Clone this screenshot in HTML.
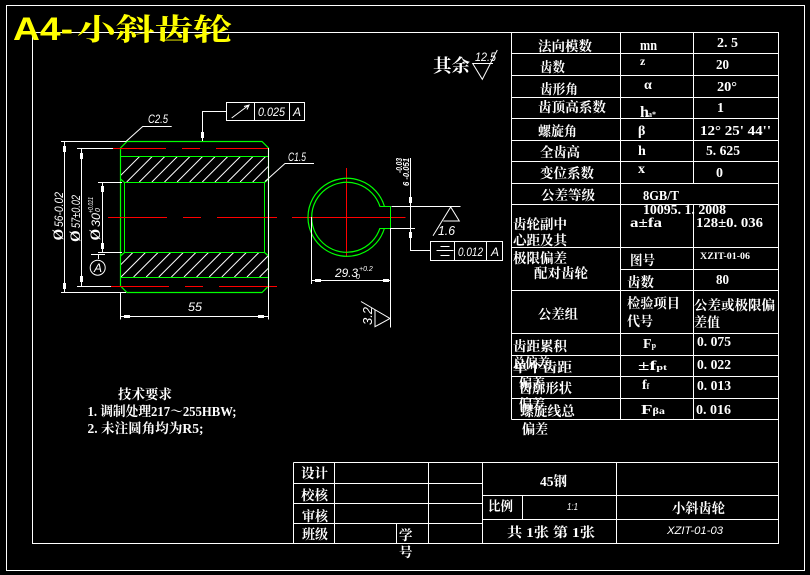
<!DOCTYPE html>
<html><head><meta charset="utf-8">
<style>
html,body{margin:0;padding:0;background:#000;width:810px;height:575px;overflow:hidden}
svg{display:block}
.w{stroke:#fff;stroke-width:1;fill:none;shape-rendering:crispEdges}
.g{stroke:#0f0;stroke-width:1.2;fill:none}
.gc{stroke:#0f0;stroke-width:1;fill:none;shape-rendering:crispEdges}
.r{stroke:#f00;stroke-width:1;fill:none;shape-rendering:crispEdges}
.h{stroke:#fff;stroke-width:1;fill:none}
.t{stroke:#fff;stroke-width:1;fill:none}
text{fill:#fff}
.c{font-family:"Liberation Serif","Noto Serif CJK SC",serif;font-size:13.5px;font-weight:700}
.n{font-family:"Liberation Serif","Noto Serif CJK SC",serif;font-size:14px;font-weight:700}
.i{font-family:"Liberation Sans",sans-serif;font-style:italic;font-size:12px}
</style></head><body>
<svg width="810" height="575" viewBox="0 0 810 575" xmlns="http://www.w3.org/2000/svg">
<rect width="810" height="575" fill="#000"/>
<!-- frames -->
<rect class="w" x="6.5" y="5.5" width="798" height="565"/>
<rect class="w" x="32.5" y="32.5" width="746" height="511"/>

<!-- params table -->
<path class="w" d="M511.5 32.5V419.5M620.5 32.5V419.5M693.5 32.5V183.5M693.5 204.5V419.5
M511.5 53.5H778.5M511.5 75.5H778.5M511.5 97.5H778.5M511.5 118.5H778.5M511.5 140.5H778.5M511.5 161.5H778.5M511.5 183.5H778.5M511.5 204.5H778.5M511.5 247.5H778.5M620.5 269.5H778.5M511.5 290.5H778.5M511.5 333.5H778.5M511.5 355.5H778.5M511.5 376.5H778.5M511.5 398.5H778.5M511.5 419.5H778.5"/>

<text class="c" x="538" y="51" textLength="54" lengthAdjust="spacingAndGlyphs">法向模数</text>
<text class="n" x="640" y="50" style="font-size:15px" textLength="17" lengthAdjust="spacingAndGlyphs">mn</text>
<text class="n" x="717" y="47" textLength="21" lengthAdjust="spacingAndGlyphs">2. 5</text>
<text class="c" x="540" y="72" textLength="25" lengthAdjust="spacingAndGlyphs">齿数</text>
<text class="n" x="640" y="65" style="font-size:12px">z</text>
<text class="n" x="716" y="69" textLength="13" lengthAdjust="spacingAndGlyphs">20</text>
<text class="c" x="540" y="94" textLength="38" lengthAdjust="spacingAndGlyphs">齿形角</text>
<text class="n" x="644" y="89">α</text>
<text class="n" x="717" y="91" textLength="20" lengthAdjust="spacingAndGlyphs">20°</text>
<text class="c" x="538" y="112" textLength="68" lengthAdjust="spacingAndGlyphs">齿顶高系数</text>
<text class="n" x="640" y="117" style="font-size:16px">h</text><text class="n" x="648" y="117" style="font-size:8px">a*</text>
<text class="n" x="717" y="112">1</text>
<text class="c" x="538" y="136" textLength="39" lengthAdjust="spacingAndGlyphs">螺旋角</text>
<text class="n" x="638" y="135">β</text>
<text class="n" x="700" y="135" textLength="71" lengthAdjust="spacingAndGlyphs">12° 25' 44''</text>
<text class="c" x="540" y="157" textLength="40" lengthAdjust="spacingAndGlyphs">全齿高</text>
<text class="n" x="638" y="155">h</text>
<text class="n" x="706" y="155" textLength="34" lengthAdjust="spacingAndGlyphs">5. 625</text>
<text class="c" x="540" y="178" textLength="54" lengthAdjust="spacingAndGlyphs">变位系数</text>
<text class="n" x="638" y="173">x</text>
<text class="n" x="716" y="177">0</text>
<text class="c" x="541" y="200" textLength="54" lengthAdjust="spacingAndGlyphs">公差等级</text>
<text class="n" x="643" y="200" textLength="36" lengthAdjust="spacingAndGlyphs">8GB/T</text>
<text class="n" x="643" y="214" textLength="83" lengthAdjust="spacingAndGlyphs">10095. 1. 2008</text>
<text class="c" x="513" y="229" textLength="54" lengthAdjust="spacingAndGlyphs">齿轮副中</text>
<text class="n" x="630" y="227" textLength="32" lengthAdjust="spacingAndGlyphs">a±fa</text>
<text class="n" x="696" y="227" textLength="67" lengthAdjust="spacingAndGlyphs">128±0. 036</text>
<text class="c" x="513" y="245" textLength="54" lengthAdjust="spacingAndGlyphs">心距及其</text>
<text class="c" x="513" y="263" textLength="54" lengthAdjust="spacingAndGlyphs">极限偏差</text>
<text class="c" x="534" y="278" textLength="54" lengthAdjust="spacingAndGlyphs">配对齿轮</text>
<text class="c" x="630" y="265" textLength="25" lengthAdjust="spacingAndGlyphs">图号</text>
<text class="n" x="700" y="259" style="font-size:9px" textLength="50" lengthAdjust="spacingAndGlyphs">XZIT-01-06</text>
<text class="c" x="627" y="287" textLength="27" lengthAdjust="spacingAndGlyphs">齿数</text>
<text class="n" x="716" y="284" textLength="13" lengthAdjust="spacingAndGlyphs">80</text>
<text class="c" x="538" y="319" textLength="40" lengthAdjust="spacingAndGlyphs">公差组</text>
<text class="c" x="627" y="308" textLength="53" lengthAdjust="spacingAndGlyphs">检验项目</text>
<text class="c" x="627" y="326" textLength="26" lengthAdjust="spacingAndGlyphs">代号</text>
<text class="c" x="694" y="310" textLength="81" lengthAdjust="spacingAndGlyphs">公差或极限偏</text>
<text class="c" x="694" y="327" textLength="26" lengthAdjust="spacingAndGlyphs">差值</text>
<text class="c" x="513" y="351" textLength="54" lengthAdjust="spacingAndGlyphs">齿距累积</text>
<text class="n" x="643" y="348">F<tspan font-size="8">p</tspan></text>
<text class="n" x="697" y="346" textLength="34" lengthAdjust="spacingAndGlyphs">0. 075</text>
<text class="c" x="513" y="368" textLength="37" lengthAdjust="spacingAndGlyphs">总偏差</text>
<text class="c" x="513" y="372" textLength="59" lengthAdjust="spacingAndGlyphs">单个齿距</text>
<text class="n" x="638" y="370" textLength="29" lengthAdjust="spacingAndGlyphs">±f<tspan font-size="8">pt</tspan></text>
<text class="n" x="697" y="369" textLength="34" lengthAdjust="spacingAndGlyphs">0. 022</text>
<text class="c" x="519" y="388" textLength="26" lengthAdjust="spacingAndGlyphs">偏差</text>
<text class="c" x="519" y="393" textLength="53" lengthAdjust="spacingAndGlyphs">齿廓形状</text>
<text class="n" x="642" y="389">f<tspan font-size="8">f</tspan></text>
<text class="n" x="697" y="390" textLength="34" lengthAdjust="spacingAndGlyphs">0. 013</text>
<text class="c" x="519" y="409" textLength="26" lengthAdjust="spacingAndGlyphs">偏差</text>
<text class="c" x="520" y="416" textLength="55" lengthAdjust="spacingAndGlyphs">螺旋线总</text>
<text class="n" x="641" y="414" textLength="24" lengthAdjust="spacingAndGlyphs">F<tspan font-size="9">βa</tspan></text>
<text class="n" x="696" y="414" textLength="35" lengthAdjust="spacingAndGlyphs">0. 016</text>
<text class="c" x="522" y="434" textLength="26" lengthAdjust="spacingAndGlyphs">偏差</text>

<!-- title block -->
<path class="w" d="M293.5 462.5H778.5M293.5 483.5H482.5M293.5 503.5H482.5M293.5 523.5H482.5M482.5 495.5H778.5M482.5 519.5H778.5
M293.5 462.5V543.5M334.5 462.5V543.5M396.5 523.5V543.5M428.5 462.5V543.5M482.5 462.5V543.5M522.5 495.5V519.5M616.5 462.5V543.5"/>
<text class="c" x="301" y="478" textLength="27" lengthAdjust="spacingAndGlyphs">设计</text>
<text class="c" x="301" y="500" textLength="27" lengthAdjust="spacingAndGlyphs">校核</text>
<text class="c" x="302" y="521" textLength="26" lengthAdjust="spacingAndGlyphs">审核</text>
<text class="c" x="302" y="539" textLength="26" lengthAdjust="spacingAndGlyphs">班级</text>
<text class="c" x="399" y="540">学</text>
<text class="c" x="399" y="557">号</text>
<text class="c" x="540" y="486" textLength="27" lengthAdjust="spacingAndGlyphs">45钢</text>
<text class="c" x="488" y="511" textLength="25" lengthAdjust="spacingAndGlyphs">比例</text>
<text class="i" x="567" y="510" style="font-size:10px" textLength="11" lengthAdjust="spacingAndGlyphs">1:1</text>
<text class="c" x="672" y="513" textLength="53" lengthAdjust="spacingAndGlyphs">小斜齿轮</text>
<text class="c" x="507" y="537" textLength="88" lengthAdjust="spacingAndGlyphs">共 1张 第 1张</text>
<text class="i" x="667" y="534" style="font-size:11px" textLength="56" lengthAdjust="spacingAndGlyphs">XZIT-01-03</text>

<!-- notes -->
<text class="c" x="118" y="399" textLength="54" lengthAdjust="spacingAndGlyphs">技术要求</text>
<text class="c" x="87.5" y="416" textLength="149" lengthAdjust="spacingAndGlyphs">1. 调制处理217～255HBW;</text>
<text class="c" x="87.5" y="433" textLength="116" lengthAdjust="spacingAndGlyphs">2. 未注圆角均为R5;</text>

<!-- rest finish -->
<text class="c" x="433" y="72" style="font-size:18px" textLength="37" lengthAdjust="spacingAndGlyphs">其余</text>
<path class="t" d="M493 63.5H472.7L482.3 79.3L497.3 50"/>
<text class="i" x="475" y="61" textLength="21" lengthAdjust="spacingAndGlyphs">12.5</text>

<!-- hatch -->
<path class="h" clip-path="url(#h1)" d="M114.1 182L139.6 156.5M126.7 182L152.2 156.5M139.3 182L164.8 156.5M151.9 182L177.4 156.5M164.5 182L190 156.5M177.1 182L202.6 156.5M189.7 182L215.2 156.5M202.3 182L227.8 156.5M214.9 182L240.4 156.5M227.5 182L253 156.5M240.1 182L265.6 156.5M252.7 182L278.2 156.5M265.3 182L290.8 156.5"/>
<path class="h" clip-path="url(#h2)" d="M108.4 277L132.9 252.5M121 277L145.5 252.5M133.6 277L158.1 252.5M146.2 277L170.7 252.5M158.8 277L183.3 252.5M171.4 277L195.9 252.5M184 277L208.5 252.5M196.6 277L221.1 252.5M209.2 277L233.7 252.5M221.8 277L246.3 252.5M234.4 277L258.9 252.5M247 277L271.5 252.5M259.6 277L284.1 252.5"/>
<defs>
<clipPath id="h1"><rect x="121" y="157" width="147" height="25"/></clipPath>
<clipPath id="h2"><rect x="121" y="253" width="147" height="24"/></clipPath>
</defs>

<!-- section view -->
<polygon class="g" points="127,141.5 262,141.5 268.5,148 268.5,286 262,292.5 127,292.5 120.5,286 120.5,148"/>
<path class="gc" d="M120.5 156.5H268.5M120.5 277.5H268.5"/>
<rect class="gc" x="124.5" y="182.5" width="140" height="70"/>
<path class="g" d="M120.5 179L124.5 182.5M268.5 179L264.5 182.5M120.5 256L124.5 252.5M268.5 256L264.5 252.5"/>
<path class="r" d="M113 148.5H166M182 148.5H200M216 148.5H268M108 217.5H167M183 217.5H201M217 217.5H277M111 286.5H169M185 286.5H203M219 286.5H277"/>

<!-- dims left -->
<path class="w" d="M61 141.5H126M61 292.5H126M64.5 141.5V292.5M77 148.5H113M77 286.5H111M81.5 148.5V286.5M98 182.5H122M98 252.5H122M102.5 182.5V252.5M91 254.5H105M98.5 254.5V259"/>
<g fill="#fff">
<rect x="63" y="146" width="3" height="6"/><rect x="63" y="283" width="3" height="6"/>
<rect x="80" y="153" width="3" height="6"/><rect x="80" y="276" width="3" height="6"/>
<rect x="101" y="186" width="3" height="6"/><rect x="101" y="243" width="3" height="6"/>
<rect x="201" y="132" width="3" height="6"/>
<rect x="124" y="315" width="6" height="3"/><rect x="258" y="315" width="6" height="3"/>
<rect x="409" y="197" width="3" height="6"/><rect x="409" y="232" width="3" height="6"/>
<rect x="315" y="279" width="6" height="3"/><rect x="383" y="279" width="6" height="3"/>
</g>
<circle class="t" cx="97.7" cy="267.7" r="7.5"/>
<text class="i" x="94" y="272">A</text>
<text class="c" style="font-size:15px" transform="translate(63,240.5) rotate(-90)">Ø</text>
<text class="i" transform="translate(63,227) rotate(-90)" textLength="35" lengthAdjust="spacingAndGlyphs">56-0.02</text>
<text class="c" style="font-size:15px" transform="translate(80,242) rotate(-90)">Ø</text>
<text class="i" transform="translate(80,228) rotate(-90)" textLength="33" lengthAdjust="spacingAndGlyphs">57±0.02</text>
<text class="c" style="font-size:15px" transform="translate(100,240.5) rotate(-90)">Ø</text>
<text class="i" transform="translate(100,227) rotate(-90)" textLength="14" lengthAdjust="spacingAndGlyphs">30</text>
<text class="i" style="font-size:7px" transform="translate(93,213) rotate(-90)" textLength="16" lengthAdjust="spacingAndGlyphs">+0.021</text>
<text class="i" style="font-size:7px" transform="translate(100,212) rotate(-90)">0</text>

<!-- dim bottom -->
<path class="w" d="M120.5 292V319.5M268.5 148V319.5M120.5 316.5H268.5"/>
<text class="i" x="188" y="311" textLength="14" lengthAdjust="spacingAndGlyphs">55</text>

<!-- leaders -->
<path class="t" d="M126 141.5L142.7 126.5H171.7M265 181.5L285 163.5H314"/>
<text class="i" x="148" y="123" textLength="20" lengthAdjust="spacingAndGlyphs">C2.5</text>
<text class="i" x="288" y="161" textLength="18" lengthAdjust="spacingAndGlyphs">C1.5</text>

<!-- tolerance top -->
<path class="w" d="M226.5 102.5H304.5V120.5H226.5ZM254.5 102.5V120.5M289.5 102.5V120.5M226.5 111.5H202.5V141"/>
<path class="t" d="M231.7 118L249 105M244 106.5L249 105L247 109.5"/>
<text class="i" x="258" y="116" textLength="27" lengthAdjust="spacingAndGlyphs">0.025</text>
<text class="i" x="293" y="116">A</text>

<!-- end view -->
<path class="r" d="M346.5 168V257M292 217.5H405.5"/>
<path class="g" d="M384.4 206.3A39 39 0 1 0 384.4 228.3M379.9 206.3A35 35 0 1 0 379.9 228.3"/>
<path class="gc" d="M379.5 206.5H390.5V228.5H379.5"/>
<path class="w" d="M391.5 206.5H460.5M391 228.5H415M410.5 158V250.5H430M311.5 217V284M390.5 228V327.5M311.5 280.5H390.5"/>
<path class="t" d="M433 235.7L450.7 207L459.3 221H443.3"/>
<text class="i" x="438" y="235" style="font-size:13px" textLength="17" lengthAdjust="spacingAndGlyphs">1.6</text>
<rect class="w" x="430.5" y="241.5" width="72" height="19"/>
<path class="w" d="M454.5 241.5V260.5M486.5 241.5V260.5M440.5 246.5H449.5M436.5 250.5H453.5M440.5 255.5H449.5"/>
<text class="i" x="458" y="256" textLength="25" lengthAdjust="spacingAndGlyphs">0.012</text>
<text class="i" x="491" y="256">A</text>
<text class="i" style="font-size:8px;font-weight:700" transform="translate(402,173) rotate(-90)" textLength="15" lengthAdjust="spacingAndGlyphs">-0.03</text>
<text class="i" style="font-size:8px;font-weight:700" transform="translate(409,186) rotate(-90)" textLength="28" lengthAdjust="spacingAndGlyphs">6 -0.051</text>
<text class="i" x="335" y="277" style="font-size:12px" textLength="23" lengthAdjust="spacingAndGlyphs">29.3</text>
<text class="i" x="359" y="271" style="font-size:7px">+0.2</text>
<text class="i" x="356" y="279" style="font-size:7px">0</text>
<path class="t" d="M361 301.5L390 318.5L375 326.7V310"/>
<text class="i" transform="translate(372,325) rotate(-90)" style="font-size:13px" textLength="18" lengthAdjust="spacingAndGlyphs">3.2</text>

<!-- main title -->
<text x="13" y="40" font-family="'Liberation Sans',sans-serif" font-weight="700" font-size="32" style="fill:#ff0" textLength="60" lengthAdjust="spacingAndGlyphs">A4-</text>
<text x="77" y="40" font-family="'Liberation Serif','Noto Serif CJK SC',serif" font-weight="700" font-size="30" style="fill:#ff0" textLength="155" lengthAdjust="spacingAndGlyphs">小斜齿轮</text>
</svg>
</body></html>
